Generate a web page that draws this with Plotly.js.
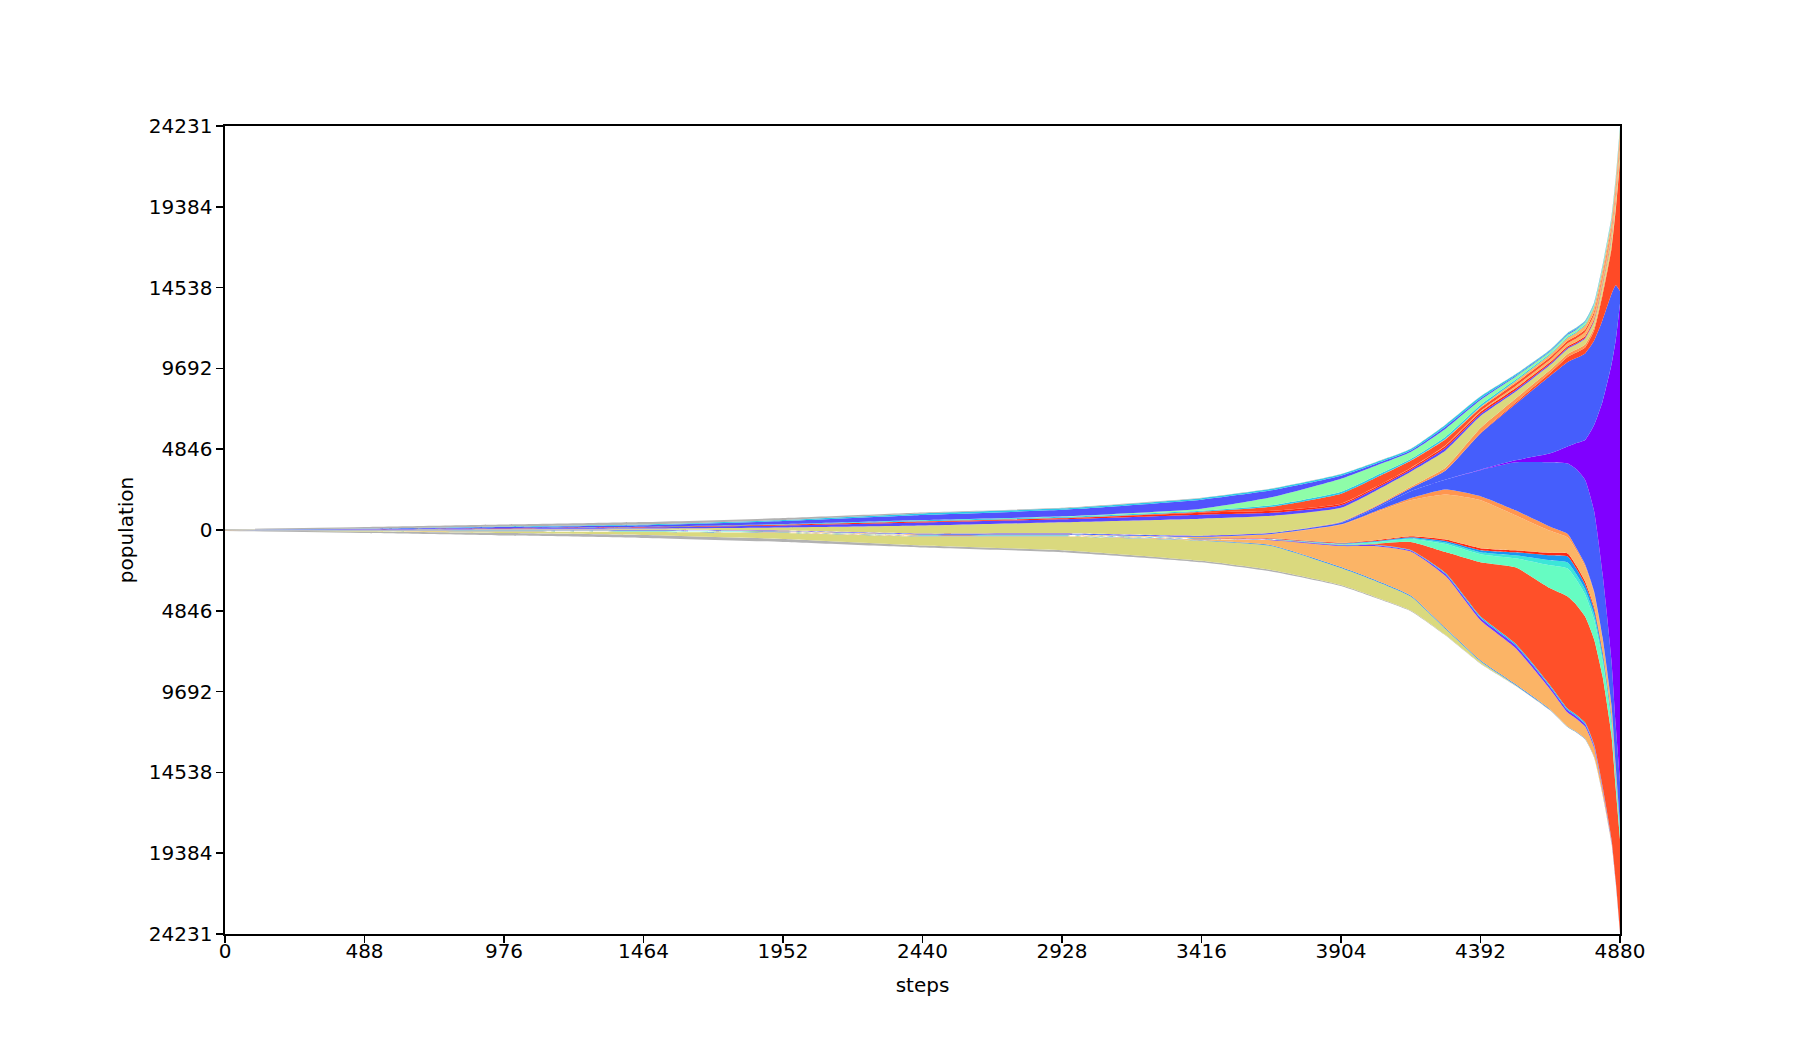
<!DOCTYPE html>
<html>
<head>
<meta charset="utf-8">
<script src="https://cdn.plot.ly/plotly-3.0.1.min.js"></script>
<style>html,body{margin:0;padding:0;background:#fff;}#chart{width:1800px;height:1050px;}</style>
</head>
<body>
<div id="chart"></div>
<script>
// ---- data: population per species (stack order bottom -> top) ----
const steps      = [0, 488, 976, 1464, 1952, 2440, 2928, 3416, 3660, 3904, 4026, 4148, 4270, 4392, 4514, 4636, 4697, 4727, 4758, 4789, 4819, 4850, 4865, 4880];

const greyB      = [36, 90, 150, 180, 180, 120, 120, 90, 90, 60, 54, 48, 30, 30, 18, 12, 12, 12, 12, 12, 6, 6, 6, 6];
const khaki1     = [6, 36, 90, 180, 360, 540, 822, 1200, 1440, 1020, 960, 840, 360, 120, 30, 12, 6, 6, 12, 6, 6, 0, 0, 0];
const blueLine1  = [0, 0, 12, 12, 18, 18, 18, 30, 48, 60, 60, 60, 60, 60, 60, 42, 30, 30, 30, 24, 30, 18, 12, 12];
const orange1    = [6, 12, 24, 24, 24, 24, 30, 60, 300, 1260, 2040, 2640, 3120, 2400, 2160, 1200, 840, 780, 720, 540, 300, 90, 30, 18];
const purpleLine = [0, 0, 0, 0, 0, 0, 0, 18, 30, 48, 60, 60, 120, 150, 180, 150, 150, 150, 150, 138, 120, 90, 60, 30];
const cyanLine1  = [0, 0, 0, 0, 12, 12, 12, 12, 18, 24, 30, 30, 60, 90, 90, 90, 90, 90, 90, 72, 60, 48, 36, 30];
const redBig     = [0, 0, 0, 0, 0, 6, 6, 6, 12, 18, 60, 480, 1260, 3240, 4560, 5820, 6720, 6600, 6360, 6300, 6600, 6240, 5520, 5580];
const aqua       = [0, 12, 18, 18, 12, 12, 12, 12, 18, 30, 90, 180, 480, 480, 540, 1380, 1680, 1500, 1320, 1200, 960, 720, 600, 492];
const cyan2      = [0, 0, 0, 0, 0, 0, 0, 0, 0, 18, 30, 42, 90, 120, 180, 300, 360, 330, 300, 300, 240, 180, 180, 180];
const dodger     = [0, 0, 0, 18, 12, 12, 12, 12, 18, 30, 42, 60, 90, 120, 180, 300, 360, 330, 300, 300, 240, 180, 180, 120];
const redThin1   = [0, 0, 0, 0, 0, 6, 6, 18, 24, 30, 48, 60, 90, 120, 120, 150, 180, 180, 180, 150, 120, 90, 90, 60];
const orange2    = [0, 12, 18, 18, 18, 24, 30, 60, 240, 1080, 1680, 2160, 2700, 2880, 2100, 1320, 960, 900, 900, 840, 720, 600, 300, 12];
const orangeThin = [0, 0, 0, 0, 0, 0, 0, 12, 18, 30, 60, 120, 300, 240, 300, 240, 210, 150, 120, 90, 60, 30, 18, 6];
const blueLow    = [6, 18, 30, 30, 36, 48, 60, 60, 60, 90, 180, 420, 600, 1560, 2880, 3870, 4230, 4740, 5070, 4830, 3810, 2670, 2424, 2556];
const purple     = [6, 12, 18, 18, 12, 12, 12, 12, 6, 0, 0, 0, 0, 30, 120, 540, 1020, 1560, 2400, 5100, 10320, 17700, 23100, 28716];
const blueUp     = [0, 0, 0, 0, 0, 0, 0, 0, 0, 30, 90, 180, 540, 2160, 3360, 4650, 5070, 5100, 5190, 5070, 4890, 4230, 3276, 744];
const redTop     = [0, 0, 0, 0, 0, 0, 0, 0, 0, 0, 0, 0, 0, 30, 90, 180, 300, 330, 360, 600, 1500, 2700, 4500, 7800];
const orangeTop  = [0, 0, 0, 0, 0, 0, 0, 0, 0, 30, 60, 90, 180, 300, 240, 180, 180, 180, 180, 180, 180, 180, 180, 180];
const khaki2     = [6, 18, 36, 72, 180, 480, 660, 1020, 1020, 840, 900, 900, 1020, 720, 420, 300, 300, 312, 360, 360, 420, 450, 450, 510];
const blueB      = [0, 12, 36, 60, 120, 180, 180, 240, 180, 150, 132, 120, 162, 120, 90, 72, 72, 66, 60, 60, 60, 60, 60, 60];
const redThin2   = [0, 0, 18, 30, 48, 60, 60, 120, 120, 90, 90, 90, 120, 120, 120, 90, 90, 90, 90, 90, 90, 90, 90, 90];
const lorA       = [0, 0, 0, 0, 0, 0, 0, 0, 0, 0, 6, 18, 30, 60, 120, 150, 180, 198, 240, 270, 300, 330, 360, 390];
const redOrange  = [0, 0, 0, 0, 12, 18, 24, 60, 240, 600, 540, 420, 360, 180, 180, 150, 150, 150, 150, 168, 180, 210, 210, 210];
const lorB       = [0, 0, 0, 0, 0, 0, 0, 0, 0, 0, 6, 18, 30, 60, 120, 150, 180, 198, 240, 270, 300, 330, 360, 390];
const cyanLine2  = [0, 0, 0, 18, 30, 60, 60, 60, 90, 120, 120, 90, 120, 120, 90, 60, 60, 60, 60, 60, 60, 60, 60, 60];
const aquaTop    = [0, 0, 0, 0, 0, 18, 30, 120, 480, 780, 600, 420, 480, 300, 180, 120, 120, 120, 120, 120, 120, 120, 120, 120];
const blueA      = [6, 30, 60, 90, 180, 300, 390, 540, 420, 180, 120, 90, 120, 90, 60, 48, 48, 48, 42, 36, 30, 30, 30, 30];
const cyanEdge   = [0, 12, 30, 42, 60, 90, 90, 90, 90, 90, 90, 90, 120, 120, 72, 60, 60, 60, 48, 48, 42, 42, 42, 42];
const greyT      = [36, 96, 120, 150, 120, 60, 36, 30, 24, 18, 18, 18, 18, 18, 18, 18, 18, 18, 18, 18, 18, 18, 18, 18];

const xTicks = [0, 488, 976, 1464, 1952, 2440, 2928, 3416, 3904, 4392, 4880];
const yTickVals = [-24231, -19384.8, -14538.6, -9692.4, -4846.2, 0, 4846.2, 9692.4, 14538.6, 19384.8, 24231];
const yTickText = ['24231', '19384', '14538', '9692', '4846', '0', '4846', '9692', '14538', '19384', '24231'];

// ---- styles ----
const layers = [
  [greyB, '#b2b2b2'], [khaki1, '#dad97e'], [blueLine1, '#2a8cf5'], [orange1, '#fbb466'],
  [purpleLine, '#6e3cff'], [cyanLine1, '#1ec8f0'], [redBig, '#ff5029'], [aqua, '#66fcc2'],
  [cyan2, '#3ce6d8'], [dodger, '#1a96f2'], [redThin1, '#ff2814'], [orange2, '#fbb466'],
  [orangeThin, '#ff964f'], [blueLow, '#455efc'], [purple, '#8000ff'], [blueUp, '#455efc'],
  [redTop, '#ff4a26'], [orangeTop, '#ff964f'], [khaki2, '#dad97e'], [blueB, '#5a48ff'],
  [redThin2, '#ff2814'], [lorA, '#fbb466'], [redOrange, '#ff5029'], [lorB, '#fbb466'],
  [cyanLine2, '#2cc8e8'], [aquaTop, '#8efda8'], [blueA, '#5252fd'], [cyanEdge, '#2cc8e8'],
  [greyT, '#b2b2b2']
];

const totals = steps.map((_, i) => layers.reduce((s, L) => s + L[0][i], 0));
let cum = totals.map(t => -t / 2);
const lineShape = {width: 0, shape: 'spline', smoothing: 0.5};
const traces = [{x: steps, y: cum.slice(), mode: 'lines', line: lineShape, hoverinfo: 'skip', showlegend: false}];
for (const [vals, color] of layers) {
  cum = cum.map((c, i) => c + vals[i]);
  traces.push({x: steps, y: cum.slice(), mode: 'lines', line: Object.assign({color: color}, lineShape),
    fill: 'tonexty', fillcolor: color, hoverinfo: 'skip', showlegend: false});
}

const axisCommon = {
  showgrid: false, zeroline: false, showline: true, mirror: true,
  linecolor: 'black', linewidth: 1.6, ticks: 'outside', ticklen: 7, tickwidth: 1.6, tickcolor: 'black',
  tickfont: {family: 'DejaVu Sans', size: 20, color: 'black'}
};

const layout = {
  width: 1800, height: 1050,
  margin: {l: 225, r: 180, t: 126, b: 115.5, pad: 0},
  paper_bgcolor: 'white', plot_bgcolor: 'white', showlegend: false,
  font: {family: 'DejaVu Sans', size: 20, color: 'black'},
  xaxis: Object.assign({}, axisCommon, {
    range: [0, 4880], tickmode: 'array', tickvals: xTicks, ticktext: xTicks.map(String),
    ticklabelstandoff: -9,
    title: {text: 'steps', font: {family: 'DejaVu Sans', size: 20, color: 'black'}, standoff: 16}
  }),
  yaxis: Object.assign({}, axisCommon, {
    range: [-24231, 24231], tickmode: 'array', tickvals: yTickVals, ticktext: yTickText,
    title: {text: 'population', font: {family: 'DejaVu Sans', size: 20, color: 'black'}, standoff: 10}
  })
};

Plotly.newPlot('chart', traces, layout, {staticPlot: true, displayModeBar: false});
</script>
</body>
</html>
